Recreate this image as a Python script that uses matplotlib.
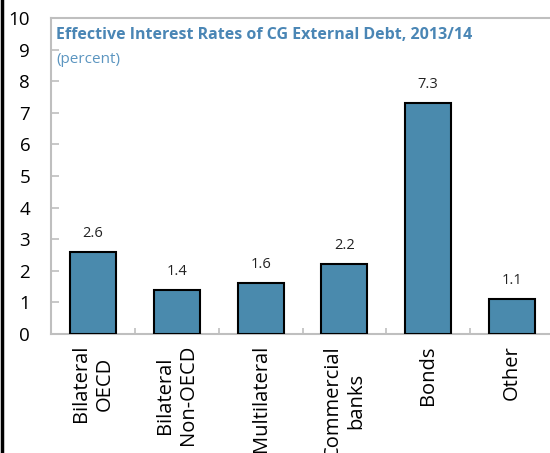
import matplotlib
matplotlib.use("Agg")
import matplotlib.pyplot as plt
from matplotlib.lines import Line2D
import numpy as np

categories = ["Bilateral\nOECD", "Bilateral\nNon-OECD", "Multilateral",
              "Commercial\nbanks", "Bonds", "Other"]
rates = [2.6, 1.4, 1.6, 2.2, 7.3, 1.1]
rate_labels = ["2.6", "1.4", "1.6", "2.2", "7.3", "1.1"]
y_ticks = [0, 1, 2, 3, 4, 5, 6, 7, 8, 9, 10]

plt.rcParams["font.family"] = ["Open Sans", "DejaVu Sans"]

fig = plt.figure(figsize=(5.5, 4.53), dpi=100)
ax = fig.add_axes([51 / 550, 119 / 453, 503 / 550, 316 / 453])

x = np.arange(len(categories))
bars = ax.bar(x, rates, width=0.55, color="#4a8aad", edgecolor="black",
              linewidth=1.5, zorder=3)

for xi, v, lab in zip(x, rates, rate_labels):
    ax.annotate(lab, (xi, v), xytext=(0, 8), textcoords="offset points",
                ha="center", va="bottom", fontsize=10.5, color="#222222")

ax.set_xlim(-0.5, len(categories) - 0.5)
ax.set_ylim(0, 10)
ax.set_yticks(y_ticks)
ax.set_yticklabels([str(t) for t in y_ticks], fontsize=13.5)

ax.set_xticks(x)
ax.set_xticklabels(categories, rotation=90, fontsize=14.5,
                   ha="center", va="top", multialignment="center",
                   linespacing=1.2)
ax.tick_params(axis="x", length=0, pad=8)
ax.set_xticks(x[:-1] + 0.5, minor=True)
ax.tick_params(axis="x", which="minor", direction="in", length=4,
               color="#bfbfbf", width=1.2)
ax.tick_params(axis="y", direction="in", length=6, color="#bfbfbf",
               width=1.2, pad=15)
for lab in ax.get_yticklabels():
    lab.set_horizontalalignment("right")

for side in ["left", "bottom", "top", "right"]:
    ax.spines[side].set_color("#bfbfbf")
    ax.spines[side].set_linewidth(1.5)

ax.text(0.010, 0.945, "Effective Interest Rates of CG External Debt, 2013/14",
        transform=ax.transAxes, fontsize=11.5, fontweight="bold",
        color="#4a86b5", ha="left", va="center")
ax.text(0.010, 0.87, "(percent)", transform=ax.transAxes, fontsize=11,
        color="#5b95c0", ha="left", va="center")

fig.add_artist(Line2D([2 / 550, 2 / 550], [0, 1], color="black",
                      linewidth=2.5, transform=fig.transFigure))

fig.savefig("out.png", dpi=100)
